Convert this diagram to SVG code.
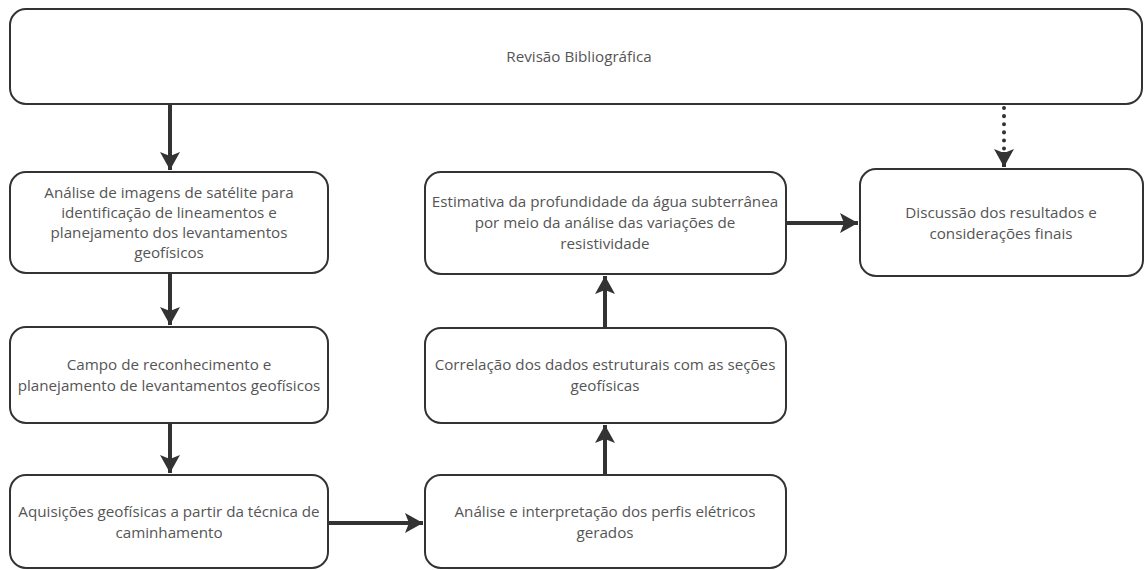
<svg xmlns="http://www.w3.org/2000/svg" width="1145" height="570" viewBox="0 0 1145 570">
<style>
.box{fill:#fff;stroke:#333;stroke-width:2}
.t{font-family:"Open Sans","Liberation Sans",sans-serif;font-size:15.2px;fill:#555;text-anchor:middle}
.c{stroke:#333;stroke-width:4;fill:none}
.d{stroke:#333;stroke-width:4;fill:none;stroke-dasharray:0.1 8;stroke-linecap:round}
</style>
<defs>
<marker id="ah" markerUnits="userSpaceOnUse" markerWidth="20" markerHeight="20" refX="18" refY="10" orient="auto">
<path d="M0,0 L18,10 L0,20 L4,10 Z" fill="#333"/>
</marker>
</defs>
<rect width="1145" height="570" fill="#fff"/>
<g id="connectors">
<path class="c" d="M170,104 V170" marker-end="url(#ah)"/>
<path class="c" d="M170,273 V325" marker-end="url(#ah)"/>
<path class="c" d="M170,423 V473" marker-end="url(#ah)"/>
<path class="c" d="M328,523 H423" marker-end="url(#ah)"/>
<path class="c" d="M605,475 V425" marker-end="url(#ah)"/>
<path class="c" d="M605,328 V276" marker-end="url(#ah)"/>
<path class="c" d="M786,223 H858" marker-end="url(#ah)"/>
<path class="d" d="M1004,108 V152"/>
<path class="c" d="M1004,152 V167" marker-end="url(#ah)" stroke-width="0.1"/>
</g>
<g id="revisao">
<rect class="box" x="10" y="9" width="1132" height="95" rx="16"/>
<text class="t" x="579" y="62">Revisão Bibliográfica</text>
</g>
<g id="analise-imagens">
<rect class="box" x="10" y="172" width="318" height="101" rx="16"/>
<text class="t" x="169" y="198">Análise de imagens de satélite para</text>
<text class="t" x="169" y="218">identificação de lineamentos e</text>
<text class="t" x="169" y="238">planejamento dos levantamentos</text>
<text class="t" x="169" y="258">geofísicos</text>
</g>
<g id="campo">
<rect class="box" x="10" y="327" width="318" height="96" rx="16"/>
<text class="t" x="169" y="370">Campo de reconhecimento e</text>
<text class="t" x="169" y="391">planejamento de levantamentos geofísicos</text>
</g>
<g id="aquisicoes">
<rect class="box" x="10" y="475" width="318" height="93" rx="16"/>
<text class="t" x="169" y="517">Aquisições geofísicas a partir da técnica de</text>
<text class="t" x="169" y="538">caminhamento</text>
</g>
<g id="analise-perfis">
<rect class="box" x="425" y="475" width="361" height="93" rx="16"/>
<text class="t" x="605" y="517">Análise e interpretação dos perfis elétricos</text>
<text class="t" x="605" y="538">gerados</text>
</g>
<g id="correlacao">
<rect class="box" x="425" y="328" width="361" height="95" rx="16"/>
<text class="t" x="605" y="370">Correlação dos dados estruturais com as seções</text>
<text class="t" x="605" y="391">geofísicas</text>
</g>
<g id="estimativa">
<rect class="box" x="425" y="172" width="361" height="102" rx="16"/>
<text class="t" x="605" y="207">Estimativa da profundidade da água subterrânea</text>
<text class="t" x="605" y="228">por meio da análise das variações de</text>
<text class="t" x="605" y="249">resistividade</text>
</g>
<g id="discussao">
<rect class="box" x="860" y="169" width="283" height="107" rx="16"/>
<text class="t" x="1001" y="218">Discussão dos resultados e</text>
<text class="t" x="1001" y="239">considerações finais</text>
</g>
</svg>
